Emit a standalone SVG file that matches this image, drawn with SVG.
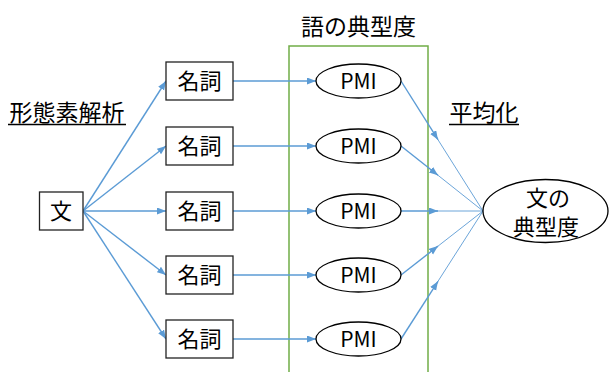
<svg xmlns="http://www.w3.org/2000/svg" width="609" height="372" viewBox="0 0 609 372">
<defs>
<style>
.t{font-family:"Noto Sans CJK JP","Noto Sans",sans-serif;fill:#000;text-anchor:middle}
.box{fill:#fff;stroke:#222;stroke-width:1.3}
.ell{fill:#fff;stroke:#000;stroke-width:1.3}
.a{stroke:#5B9BD5;stroke-width:1.4;fill:none;marker-end:url(#ah)}
.l{stroke:#5B9BD5;stroke-width:0.9;fill:none}
</style>
<marker id="ah" markerUnits="userSpaceOnUse" markerWidth="10" markerHeight="8" refX="9" refY="3.5" orient="auto">
<path d="M0,0 L9,3.5 L0,7 z" fill="#5B9BD5"/>
</marker>
</defs>
<rect id="group-box" x="289" y="46" width="139" height="340" fill="none" stroke="#70AD47" stroke-width="1.5"/>
<g id="labels">
<text class="t" x="358.5" y="35" font-size="23">語の典型度</text>
<text class="t" x="67" y="121" font-size="23">形態素解析</text>
<line x1="8" y1="124.5" x2="126" y2="124.5" stroke="#000" stroke-width="1.3"/>
<text class="t" x="484" y="121" font-size="23">平均化</text>
<line x1="449" y1="124.5" x2="519" y2="124.5" stroke="#000" stroke-width="1.3"/>
</g>
<g id="connectors">
<line class="a" x1="83" y1="211" x2="166" y2="81"/>
<line class="a" x1="83" y1="211" x2="166" y2="146"/>
<line class="a" x1="83" y1="211" x2="166" y2="211"/>
<line class="a" x1="83" y1="211" x2="166" y2="275"/>
<line class="a" x1="83" y1="211" x2="166" y2="339"/>
<line class="a" x1="233" y1="81" x2="316" y2="81"/>
<line class="a" x1="233" y1="146" x2="316" y2="146"/>
<line class="a" x1="233" y1="211" x2="316" y2="211"/>
<line class="a" x1="233" y1="275" x2="316" y2="275"/>
<line class="a" x1="233" y1="339" x2="316" y2="339"/>
<line class="a" x1="401" y1="81" x2="438" y2="139.7"/>
<line class="a" x1="401" y1="146" x2="438" y2="175.3"/>
<line class="a" x1="401" y1="211" x2="438" y2="211"/>
<line class="a" x1="401" y1="275" x2="438" y2="246.1"/>
<line class="a" x1="401" y1="339" x2="438" y2="281.3"/>
<line class="l" x1="436" y1="136.6" x2="483" y2="211"/>
<line class="l" x1="436" y1="173.7" x2="483" y2="211"/>
<line class="l" x1="436" y1="211" x2="483" y2="211"/>
<line class="l" x1="436" y1="247.7" x2="483" y2="211"/>
<line class="l" x1="436" y1="284.4" x2="483" y2="211"/>
</g>
<g id="sentence">
<rect class="box" x="39.5" y="192" width="43.5" height="38"/>
<text class="t" x="61" y="218.5" font-size="22">文</text>
</g>
<g id="noun1"><rect class="box" x="166" y="62" width="67" height="38"/><text class="t" x="199.5" y="89" font-size="22">名詞</text></g>
<g id="noun2"><rect class="box" x="166" y="127" width="67" height="38"/><text class="t" x="199.5" y="154" font-size="22">名詞</text></g>
<g id="noun3"><rect class="box" x="166" y="192" width="67" height="38"/><text class="t" x="199.5" y="219" font-size="22">名詞</text></g>
<g id="noun4"><rect class="box" x="166" y="256" width="67" height="38"/><text class="t" x="199.5" y="283" font-size="22">名詞</text></g>
<g id="noun5"><rect class="box" x="166" y="320" width="67" height="38"/><text class="t" x="199.5" y="347" font-size="22">名詞</text></g>
<g id="pmi1"><ellipse class="ell" cx="358.5" cy="81" rx="42.5" ry="17"/><text class="t" x="358.5" y="88.5" font-size="21">PMI</text></g>
<g id="pmi2"><ellipse class="ell" cx="358.5" cy="146" rx="42.5" ry="17"/><text class="t" x="358.5" y="153.5" font-size="21">PMI</text></g>
<g id="pmi3"><ellipse class="ell" cx="358.5" cy="211" rx="42.5" ry="17"/><text class="t" x="358.5" y="218.5" font-size="21">PMI</text></g>
<g id="pmi4"><ellipse class="ell" cx="358.5" cy="275" rx="42.5" ry="17"/><text class="t" x="358.5" y="282.5" font-size="21">PMI</text></g>
<g id="pmi5"><ellipse class="ell" cx="358.5" cy="339" rx="42.5" ry="17"/><text class="t" x="358.5" y="346.5" font-size="21">PMI</text></g>
<g id="sentence-typicality">
<ellipse class="ell" cx="545.5" cy="211" rx="62.5" ry="31.5"/>
<text class="t" x="548" y="205.5" font-size="22">文の</text>
<text class="t" x="546" y="234.5" font-size="22">典型度</text>
</g>
</svg>
